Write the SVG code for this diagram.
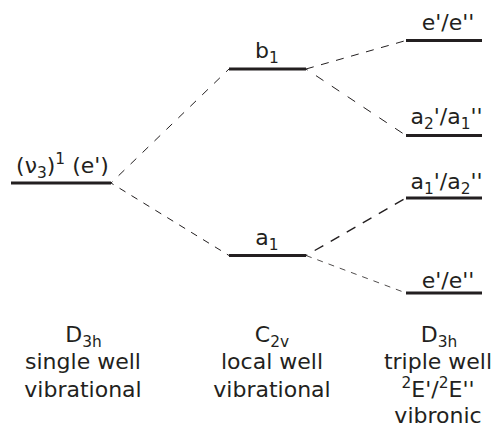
<svg xmlns="http://www.w3.org/2000/svg" width="494" height="425" viewBox="0 0 494 425">
<style>
text{font-family:"DejaVu Sans",sans-serif;font-size:22px;fill:#231f20;text-anchor:middle}
.s{font-size:15.4px}
.lv{stroke:#231f20;stroke-width:3.2;fill:none}
.d{stroke:#231f20;stroke-width:1;fill:none}
</style>
<rect width="494" height="425" fill="#fff"/>
<g id="connectors">
<path class="d" stroke-dasharray="8 8.6" stroke-dashoffset="6" d="M111 183L229 69"/>
<path class="d" stroke-dasharray="7 7" stroke-dashoffset="4" d="M111 183L229 255.5"/>
<path class="d" stroke-dasharray="8 7.6" d="M306 69L406 40.5"/>
<path class="d" stroke-dasharray="9 10" stroke-dashoffset="7" d="M306 69L406 135.5"/>
<path class="d" style="stroke-width:1.4" stroke-dasharray="10 8.5" stroke-dashoffset="8.5" d="M306 255.5L406 198"/>
<path class="d" style="stroke-width:.8" stroke-dasharray="6 6" d="M306 255.5L406 293"/>
</g>
<g id="n-v3"><path class="lv" d="M11 183H111"/><text x="62.5" y="173" xml:space="preserve">(ν<tspan class="s" dy="5">3</tspan><tspan dy="-5">)</tspan><tspan class="s" dy="-9">1</tspan><tspan dy="9"> (e')</tspan></text></g>
<g id="n-b1"><path class="lv" d="M229 69H306"/><text x="267" y="58">b<tspan class="s" dy="5">1</tspan></text></g>
<g id="n-a1"><path class="lv" d="M229 255.5H306"/><text x="267" y="245">a<tspan class="s" dy="5">1</tspan></text></g>
<g id="n-e1"><path class="lv" d="M406 40.5H482"/><text x="448" y="30">e'/e''</text></g>
<g id="n-a2a1"><path class="lv" d="M406 135.5H482"/><text x="446.5" y="124">a<tspan class="s" dy="5">2</tspan><tspan dy="-5">'/a</tspan><tspan class="s" dy="5">1</tspan><tspan dy="-5">''</tspan></text></g>
<g id="n-a1a2"><path class="lv" d="M406 198H482"/><text x="446.5" y="189">a<tspan class="s" dy="5">1</tspan><tspan dy="-5">'/a</tspan><tspan class="s" dy="5">2</tspan><tspan dy="-5">''</tspan></text></g>
<g id="n-e2"><path class="lv" d="M406 293H482"/><text x="448" y="288">e'/e''</text></g>
<g id="col1"><text x="83.5" y="342">D<tspan class="s" dy="5">3h</tspan></text><text x="83" y="369">single well</text><text x="83" y="397">vibrational</text></g>
<g id="col2"><text x="272" y="342">C<tspan class="s" dy="5">2v</tspan></text><text x="272" y="369">local well</text><text x="272" y="397">vibrational</text></g>
<g id="col3"><text x="439" y="342">D<tspan class="s" dy="5">3h</tspan></text><text x="438" y="369">triple well</text><text x="438" y="397"><tspan class="s" dy="-9">2</tspan><tspan dy="9">E'/</tspan><tspan class="s" dy="-9">2</tspan><tspan dy="9">E''</tspan></text><text x="438" y="423">vibronic</text></g>
</svg>
